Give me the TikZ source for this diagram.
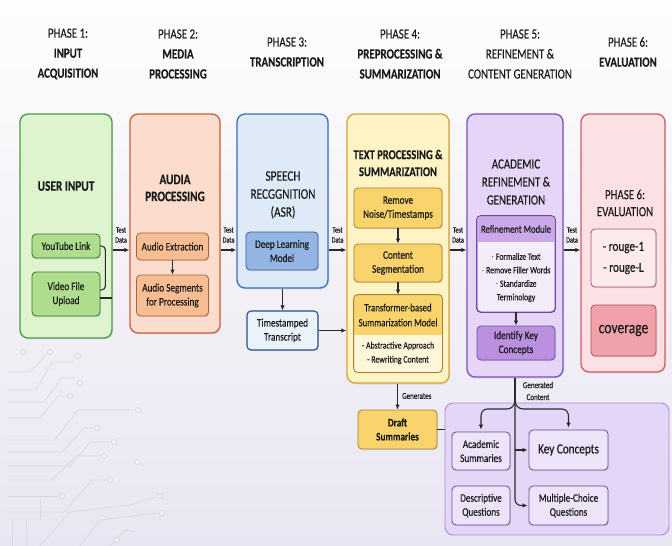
\documentclass[tikz,border=0pt]{standalone}
\usepackage{fontspec}
\setmainfont{Carlito}[FakeStretch=0.8, FakeBold=0.35]
\newfontfamily\condfont{Carlito}[FakeStretch=0.78, FakeBold=0.2]
\usetikzlibrary{arrows.meta,shadows}

% colours
\definecolor{txt}{HTML}{1A1A1A}
\definecolor{linec}{HTML}{2A2A2A}
\definecolor{bgtop}{HTML}{FDFDFE}
\definecolor{bgmid}{HTML}{F3F1F6}
\definecolor{bgbot}{HTML}{E9E6F3}
\definecolor{trace}{HTML}{DDD6E0}
\definecolor{grnF}{HTML}{DDF4CF}\definecolor{grnD}{HTML}{4A9A44}
\definecolor{grnI}{HTML}{AEDD8E}\definecolor{grnB}{HTML}{3F6E37}
\definecolor{orgF}{HTML}{FCDCCC}\definecolor{orgD}{HTML}{CC5D3A}
\definecolor{orgI}{HTML}{F8BD93}\definecolor{orgB}{HTML}{9E6540}
\definecolor{bluF}{HTML}{DEEAF8}\definecolor{bluD}{HTML}{3A6BBE}
\definecolor{bluI}{HTML}{93B5E4}\definecolor{bluB}{HTML}{3C5C8F}
\definecolor{bluL}{HTML}{EAF2FC}\definecolor{bluT}{HTML}{2C4E88}
\definecolor{yelF}{HTML}{FDF3C4}\definecolor{yelD}{HTML}{D4A436}
\definecolor{yelI}{HTML}{F9D46C}\definecolor{yelB}{HTML}{A67E30}
\definecolor{yelL}{HTML}{FFF6DA}
\definecolor{purF}{HTML}{E6D5F6}\definecolor{purD}{HTML}{7A4EBE}
\definecolor{purH}{HTML}{CBA8E8}\definecolor{purL}{HTML}{F4ECFB}
\definecolor{purK}{HTML}{BA90DF}\definecolor{purB}{HTML}{6B4A9C}
\definecolor{regF}{HTML}{E4D6F6}\definecolor{regD}{HTML}{A68BD6}
\definecolor{chF}{HTML}{EEE4FA}
\definecolor{redF}{HTML}{FBE1E4}\definecolor{redD}{HTML}{D45A67}
\definecolor{redL}{HTML}{FCEAEC}\definecolor{redC}{HTML}{F0A1A9}
\definecolor{redB}{HTML}{A65363}

% font sizes
\newcommand\fHd{\condfont\fontsize{14}{20}\selectfont}
\newcommand\fTi{\condfont\fontsize{14.5}{17}\selectfont}
\newcommand\fIn{\fontsize{11.5}{14}\selectfont}
\newcommand\fSm{\fontsize{9.6}{13.5}\selectfont}
\newcommand\fTd{\condfont\fontsize{8}{10}\selectfont}

\tikzset{
  bigbox/.style={draw, rounded corners=8pt, line width=1.3pt, inner sep=0pt,
    drop shadow={opacity=0.15, shadow xshift=1pt, shadow yshift=-1.5pt}},
  inbox/.style={draw, rounded corners=4pt, line width=0.8pt, align=center,
    font=\fIn, text=txt, inner sep=1pt,
    drop shadow={opacity=0.22, shadow xshift=0.8pt, shadow yshift=-1.2pt}},
  phase/.style={font=\fHd, align=center, text=txt, inner sep=0pt},
  title/.style={font=\fTi, align=center, text=txt, inner sep=0pt},
  lbl/.style={align=center, text=txt, inner sep=0pt},
  tdlab/.style={font=\fTd, align=center, text=txt, inner sep=0pt},
  arr/.style={-{Latex[length=5pt,width=4.5pt]}, line width=1.1pt, draw=linec},
  conn/.style={line width=1.1pt, draw=linec},
  tr/.style={draw=trace, line width=0.8pt},
  pad/.style={draw=trace, line width=0.8pt, fill=bgmid}
}

\begin{document}
\begin{tikzpicture}[x=1pt,y=-1pt]
\useasboundingbox (0,0) rectangle (672,546);
\shade[top color=bgtop, bottom color=bgbot, middle color=bgmid] (0,0) rectangle (672,546);

% faint circuit traces, lower left
\draw[tr] (8,372) -- (30,372) -- (46,355);
\draw[tr] (8,390) -- (36,390) -- (52,362) -- (74,362);
\draw[tr] (8,402) -- (44,402) -- (62,378) -- (76,378);
\draw[tr] (8,418) -- (40,418) -- (58,396) -- (66,396);
\draw[tr] (8,440) -- (55,440) -- (78,410) -- (134,410);
\draw[tr] (8,452) -- (62,452) -- (84,428) -- (93,428);
\draw[tr] (8,466) -- (70,466) -- (90,442) -- (110,442);
\draw[tr] (8,480) -- (52,480) -- (76,456) -- (100,456);
\draw[tr] (8,496) -- (58,496);
\draw[tr] (8,512) -- (64,512) -- (92,480) -- (106,480);
\draw[tr] (40,546) -- (70,512) -- (130,505) -- (155,497);
\draw[tr] (80,546) -- (100,520) -- (158,513);
\draw[tr] (110,546) -- (125,530) -- (135,532);
\draw[tr] (12,520) -- (12,546);
\draw[tr] (26,520) -- (26,546);
\draw[tr] (40,500) -- (40,520);
\foreach \p in {(23,352),(50,352),(78,356),(80,383),(70,396),(138,410),(97,428),(114,442),(104,456),(62,496),(110,480),(160,496),(162,513),(117,540),(137,462)}
  \draw[pad] \p circle (2.6);

% phase headings
\node[phase] (h1) at (68,54)  {PHASE 1:\\\textbf{INPUT}\\\textbf{ACQUISITION}};
\node[phase] (h2) at (178,54) {PHASE 2:\\\textbf{MEDIA}\\\textbf{PROCESSING}};
\node[phase] (h3) at (287,52) {PHASE 3:\\\textbf{TRANSCRIPTION}};
\node[phase] (h4) at (400,54) {PHASE 4:\\\textbf{PREPROCESSING \&}\\\textbf{SUMMARIZATION}};
\node[phase] (h5) at (520,54) {PHASE 5:\\REFINEMENT \&\\CONTENT GENERATION};
\node[phase] (h6) at (628,52) {PHASE 6:\\\textbf{EVALUATION}};

% phase containers
\node[bigbox, draw=grnD, fill=grnF, minimum width=92, minimum height=224] (grn) at (66,226) {};
\node[bigbox, draw=orgD, fill=orgF, minimum width=90, minimum height=219] (org) at (175,223.5) {};
\node[bigbox, draw=bluD, fill=bluF, minimum width=91, minimum height=174] (blu) at (282.5,201) {};
\node[bigbox, draw=yelD, fill=yelF, minimum width=102, minimum height=269] (yel) at (398,248.5) {};
\node[bigbox, draw=purD, fill=purF, minimum width=96, minimum height=263] (pur) at (515,245.5) {};
\node[bigbox, draw=redD, fill=redF, minimum width=84, minimum height=258] (red) at (623,243) {};

% container titles
\node[title] (tg) at (66,186) {\textbf{USER INPUT}};
\node[title, font=\condfont\fontsize{14.5}{17}\selectfont] (to) at (175,188) {\textbf{AUDIA}\\\textbf{PROCESSING}};
\node[title, font=\condfont\fontsize{14.5}{18}\selectfont] (tb) at (283,195) {SPEECH\\RECGGNITION\\(ASR)};
\node[title, font=\condfont\fontsize{13.5}{17}\selectfont] (ty) at (398,163) {\textbf{TEXT PROCESSING \&}\\\textbf{SUMMARIZATION}};
\node[title, font=\condfont\fontsize{14}{18}\selectfont] (tp) at (516,182) {ACADEMIC\\REFINEMENT \&\\GENERATION};
\node[title, font=\condfont\fontsize{14}{17}\selectfont] (tr6) at (625,203) {PHASE 6:\\EVALUATION};

% phase 1
\node[inbox, draw=grnB, fill=grnI, minimum width=68, minimum height=24] (yt) at (66,246) {YouTube Link};
\node[inbox, draw=grnB, fill=grnI, minimum width=68, minimum height=44] (vf) at (66,294) {Video File\\Upload};
\draw[conn, rounded corners=4] (yt.east) -- ++(5,0) -- ++(0,44) -- ++(-5,0);
\draw[conn] ([yshift=-4pt]vf.east) -- ++(12,0);

% phase 2
\node[inbox, draw=orgB, fill=orgI, minimum width=72, minimum height=27] (ae) at (172.5,246.5) {Audio Extraction};
\node[inbox, draw=orgB, fill=orgI, minimum width=72, minimum height=41] (as) at (172.5,295.5) {Audio Segments\\for Processing};
\draw[arr] (ae.south) -- (as.north);

% phase 3
\node[inbox, draw=bluB, fill=bluI, minimum width=72, minimum height=38] (dl) at (282,251) {Deep Learning\\Model};
\node[inbox, draw=bluT, fill=bluL, line width=1.1pt, minimum width=71, minimum height=39] (ts) at (282.5,330.5) {Timestamped\\Transcript};
\draw[arr] (blu.south) -- (ts.north);

% phase 4
\node[inbox, draw=yelB, fill=yelI, minimum width=88, minimum height=40] (rn) at (398,208) {Remove\\Noise/Timestamps};
\node[inbox, draw=yelB, fill=yelI, minimum width=88, minimum height=38] (cs) at (398,263) {Content\\Segmentation};
\node[inbox, draw=none, fill=yelL, minimum width=88, minimum height=77] (tf) at (398,333.5) {};
\begin{scope}
  \clip[rounded corners=4pt] (tf.north west) rectangle (tf.south east);
  \fill[yelI] (tf.north west) rectangle (442,335);
\end{scope}
\draw[yelB, line width=0.8pt, rounded corners=4pt] (tf.north west) rectangle (tf.south east);
\node[lbl, font=\fontsize{11}{15}\selectfont] (tfh) at (398,315) {Transformer-based\\Summarization Model};
\node[lbl, font=\fontsize{9.8}{14}\selectfont] (tfl) at (398,353) {- Abstractive Approach\\- Rewriting Content};
\draw[arr] (rn.south) -- (cs.north);
\draw[arr] (cs.south) -- (tf.north);
\node[inbox, draw=yelB, fill=yelI, minimum width=79, minimum height=39] (ds) at (397.5,429.5) {\textbf{Draft}\\\textbf{Summaries}};
\draw[arr] (yel.south -| ds.north) -- (ds.north);
\node[tdlab, font=\condfont\fontsize{9}{10}\selectfont, anchor=west] (gen) at (402,396) {Generates};

% phase 5
\node[inbox, draw=purB, fill=purL, minimum width=78, minimum height=96] (rm) at (516,264) {};
\begin{scope}
  \clip[rounded corners=4pt] (rm.north west) rectangle (rm.south east);
  \fill[purH] (rm.north west) rectangle (555,242);
\end{scope}
\draw[purB, line width=0.8pt, rounded corners=4pt] (rm.north west) rectangle (rm.south east);
\node[lbl, font=\fontsize{10.8}{12}\selectfont] (rmh) at (516,229) {Refinement Module};
\node[lbl, font=\fSm] (rml) at (516,277.5) {$\cdot$ Formalize Text\\$\cdot$ Remove Filler Words\\$\cdot$ Standardize\\Terminology};
\node[inbox, draw=purB, fill=purK, minimum width=78, minimum height=34] (ik) at (516,343) {Identify Key\\Concepts};
\draw[arr] (rm.south) -- (ik.north);

% phase 6
\node[inbox, draw=redB, fill=redL, minimum width=65, minimum height=58, font=\fontsize{14}{21}\selectfont] (rg) at (623.5,258) {- rouge-1\\- rouge-L};
\node[inbox, draw=redB, fill=redC, minimum width=65, minimum height=51, font=\fontsize{17}{18}\selectfont] (cov) at (623.5,330.5) {coverage};

% test data hand-offs between phases
\coordinate (ay) at (0,250);
\draw[arr] (grn.east |- ay) -- (org.west |- ay);
\draw[arr] (org.east |- ay) -- (blu.west |- ay);
\draw[arr] (blu.east |- ay) -- (yel.west |- ay);
\draw[arr] (yel.east |- ay) -- (pur.west |- ay);
\draw[arr] (pur.east |- ay) -- (red.west |- ay);
\node[tdlab] (td1) at (121,235) {Test\\Data};
\node[tdlab] (td2) at (228.5,235) {Test\\Data};
\node[tdlab] (td3) at (337.5,235) {Test\\Data};
\node[tdlab] (td4) at (458,235) {Test\\Data};
\node[tdlab] (td5) at (572,235) {Test\\Data};
\draw[arr] (ts.east) -- (yel.west |- ts.east);

% generated content
\node[draw=regD, fill=regF, rounded corners=8pt, line width=0.9pt, minimum width=224, minimum height=132, inner sep=0pt] (reg) at (557,469) {};
\draw[conn] (ds.east) -- (reg.west |- ds.east);
\node[inbox, draw=purB, fill=chF, minimum width=58, minimum height=38] (acs) at (481,451) {Academic\\Summaries};
\node[inbox, draw=purB, fill=chF, minimum width=79, minimum height=40, font=\fontsize{14}{15}\selectfont] (kc) at (568.5,450) {Key Concepts};
\node[inbox, draw=purB, fill=chF, minimum width=58, minimum height=39] (dq) at (481,505.5) {Descriptive\\Questions};
\node[inbox, draw=purB, fill=chF, minimum width=79, minimum height=39] (mc) at (568.5,505.5) {Multiple-Choice\\Questions};
\coordinate (jn) at (515,401);
\draw[conn] (pur.south) -- (jn);
\draw[arr, rounded corners=6pt] (jn) -- (pur.south |- mc.west) -- ([xshift=-1pt]mc.west);
\draw[arr] (pur.south |- kc.west) -- ([xshift=-1pt]kc.west);
\draw[arr] (jn) to[out=-95,in=0] (507,409) -- (487,409) to[out=180,in=90] (481,416) -- ([yshift=2pt]acs.north);
\draw[arr] (jn) to[out=-85,in=180] (523,409) -- (562,409) to[out=0,in=90] (568.5,416) -- ([yshift=2pt]kc.north);
\node[tdlab, font=\condfont\fontsize{9}{12}\selectfont] (gc) at (538,391) {Generated\\Content};
\end{tikzpicture}
\end{document}
